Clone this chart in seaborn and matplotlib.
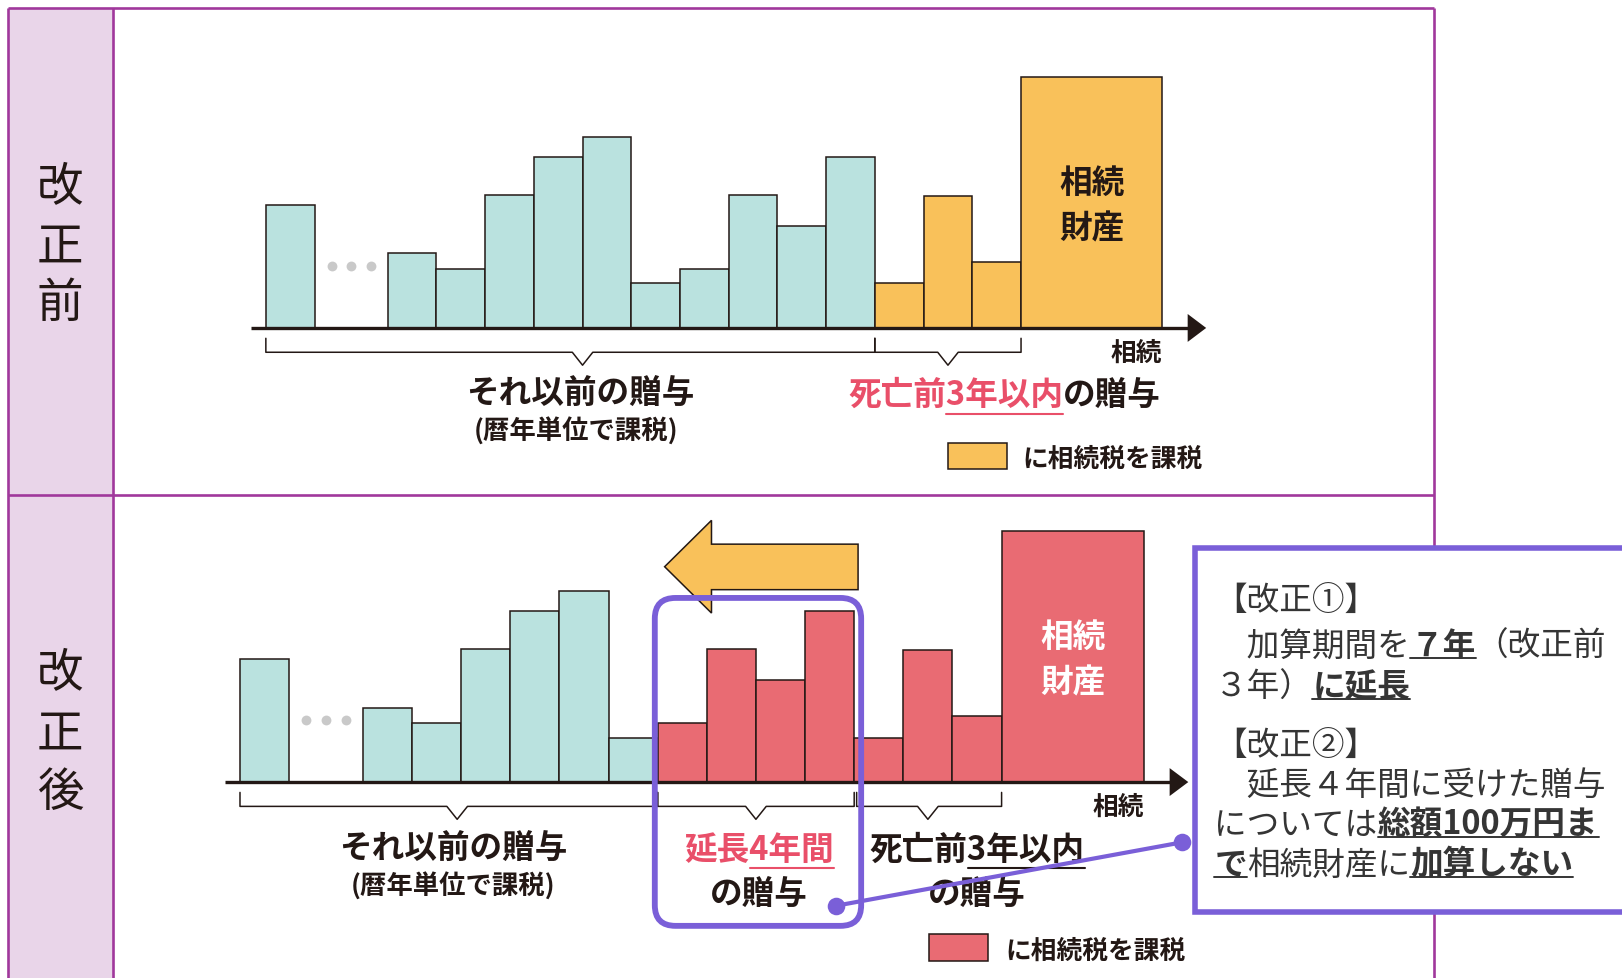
import matplotlib
matplotlib.use("Agg")
import matplotlib.pyplot as plt
from matplotlib import font_manager as fm
from matplotlib.ft2font import FT2Font
from matplotlib.patches import Rectangle, Polygon, FancyBboxPatch
import numpy as np
import pandas as pd
import seaborn as sns

# ---------------------------------------------------------------- data
# yearly gifts, oldest first (the first one stands for "much earlier")
gift_amounts = [119, 72, 57, 129, 165, 185, 43, 57, 129, 99, 165, 43, 128, 64]
estate_amount = 243
window_before = 3   # years added back to the estate before the reform
window_after = 7    # years added back after the reform

panel_titles = ["改正前", "改正後"]
earlier_label = "それ以前の贈与"
earlier_note = "(暦年単位で課税)"
death_label = "相続"
estate_label = ["相続", "財産"]
legend_label = "に相続税を課税"

box_lines = [
    [("【改正①】", False)],
    [("　加算期間を", False), ("７年", True), ("（改正前", False)],
    [("３年）", False), ("に延長", True)],
    [("【改正②】", False)],
    [("　延長４年間に受けた贈与", False)],
    [("については", False), ("総額100万円ま", True)],
    [("で", True), ("相続財産に", False), ("加算しない", True)],
]

# ---------------------------------------------------------------- style
TEAL = "#BAE2DF"
ORANGE = "#F9C15A"
RED = "#E96B73"
EDGE = "#231815"
FRAME = "#A0389C"
LABEL_FILL = "#E9D5E9"
PURPLE = "#7A5FD8"
TEXT_RED = "#E94F69"
BOX_TEXT = "#353535"
DOT_GRAY = "#C9C9C9"
JP = "Noto Sans CJK JP"

sns.set_theme(style="white")
plt.rcParams["font.family"] = [JP, "DejaVu Sans"]

DPI = 100
W_PX, H_PX = 1622, 979
VW = 1568.0                 # layout units across the figure
S = W_PX / VW               # pixels per layout unit
VH = H_PX / S

fig = plt.figure(figsize=(W_PX / DPI, H_PX / DPI), dpi=DPI, facecolor="white")

# overlay in layout units (y downwards) for frame, callouts and texts
ov = fig.add_axes([0, 0, 1, 1], zorder=5)
ov.set_xlim(0, VW)
ov.set_ylim(VH, 0)
ov.set_axis_off()

_fonts = {}


def advance(s, size, weight="normal"):
    """Pen advance of a string in layout units."""
    try:
        if weight not in _fonts:
            path = fm.findfont(fm.FontProperties(family=JP, weight=weight))
            _fonts[weight] = FT2Font(path)
        f = _fonts[weight]
        f.set_size(size, DPI)
        tot = 0.0
        for ch in s:
            tot += f.load_char(ord(ch)).linearHoriAdvance / 65536.0
        return tot / S
    except Exception:
        t = ov.text(0, 0, s, fontsize=size, fontweight=weight)
        w = t.get_window_extent(fig.canvas.get_renderer()).width / S
        t.remove()
        return w


def baseline(yc, size):
    return yc + 0.36 * size * DPI / 72.0 / S


# ---------------------------------------------------------------- frame
FX0, FY0, FCOL, FX1, FDIV = 7.4, 8.7, 109.5, 1386.0, 479.5
ov.add_patch(Rectangle((FX0, FY0), FCOL - FX0, VH, fc=LABEL_FILL, ec="none", zorder=0))
for xs, ys in [([FX0, FX1], [FY0, FY0]), ([FX0, FX1], [FDIV, FDIV]),
               ([FX0, FX0], [FY0, VH + 5]), ([FCOL, FCOL], [FY0, VH + 5]),
               ([FX1, FX1], [FY0, VH + 5])]:
    ov.plot(xs, ys, color=FRAME, lw=1.9, zorder=1, solid_capstyle="butt")

for title, ys in zip(panel_titles, [[182, 239, 294], [651.5, 709.5, 766]]):
    for ch, yc in zip(title, ys):
        ov.text(58, yc, ch, fontsize=33.5, color=EDGE, ha="center", va="center", zorder=6)

# ---------------------------------------------------------------- bar panels
XMIN, XMAX, YMAX = -0.8, 18.8, 260
ESTATE_W = 2.9
n = len(gift_amounts)
slots = [0.0] + [2.5 + i for i in range(n - 1)]
years_before = [n - i for i in range(n)]


def bar_panel(first_left, slot_w, base_y, window, taxed_color, estate_txt, brackets):
    left = first_left + (XMIN + 0.5) * slot_w
    ax = fig.add_axes([left / VW, 1 - base_y / VH, (XMAX - XMIN) * slot_w / VW, YMAX / VH])
    ax.patch.set_visible(False)
    df = pd.DataFrame({
        "slot": slots,
        "amount": gift_amounts,
        "group": ["taxed" if y <= window else "earlier" for y in years_before],
    })
    sns.barplot(data=df, x="slot", y="amount", hue="group",
                palette={"earlier": TEAL, "taxed": taxed_color},
                native_scale=True, dodge=False, width=1.0, saturation=1,
                edgecolor=EDGE, linewidth=1.1, errorbar=None, legend=False, ax=ax)
    est_left = slots[-1] + 0.5
    ax.bar(est_left, estate_amount, width=ESTATE_W, align="edge",
           color=taxed_color, edgecolor=EDGE, linewidth=1.1)
    cx = est_left + ESTATE_W / 2
    for txt, yy in zip(estate_label, [141, 97]):
        ax.text(cx, yy, txt, fontsize=23.5, fontweight="bold", color=estate_txt,
                ha="center", va="center")
    # dots in the gap between the oldest gift and the rest
    gap_c = (slots[0] + slots[1]) / 2
    ax.scatter([gap_c - 0.4, gap_c, gap_c + 0.4], [60, 60, 60], s=50,
               color=DOT_GRAY, linewidths=0, zorder=3)
    # time axis with arrow head
    ax.plot([XMIN, 18.45], [0, 0], color=EDGE, lw=2.4, solid_capstyle="butt",
            clip_on=False, zorder=4)
    ax.add_patch(Polygon([(18.42, -13.5), (XMAX, 0), (18.42, 13.5)], closed=True,
                         fc=EDGE, ec="none", clip_on=False, zorder=4))
    # brackets under the axis
    for a, b, notch in brackets:
        hw = 0.21
        xs = [a, a, notch - hw, notch, notch + hw, b, b]
        ys = [-10, -23.5, -23.5, -36, -23.5, -23.5, -10]
        ax.plot(xs, ys, color=EDGE, lw=1.1, clip_on=False, zorder=4)
    ax.set_xlim(XMIN, XMAX)
    ax.set_ylim(0, YMAX)
    ax.set_axis_off()
    return ax


bar_panel(257, 47.1, 318, window_before, ORANGE, EDGE,
          [(-0.5, 12.0, 6.0), (12.0, 15.0, 13.5)])
bar_panel(232, 47.5, 757, window_after, RED, "white",
          [(-0.5, 8.0, 3.92), (8.0, 12.0, 10.0), (12.05, 15.0, 13.5)])

# ---------------------------------------------------------------- labels under the axes
LBL = 23.5
NOTE = 19
SMALL = 18.5


def centered(x, y, s, size, color=EDGE, weight="bold"):
    ov.text(x, y, s, fontsize=size, fontweight=weight, color=color,
            ha="center", va="center", zorder=6)


def run(x_pen, yc, parts, size, weight="bold"):
    """Draw colored runs one after another; returns pen positions."""
    yb = baseline(yc, size)
    pens = []
    for s, col in parts:
        pens.append(x_pen)
        ov.text(x_pen, yb, s, fontsize=size, fontweight=weight, color=col,
                ha="left", va="baseline", zorder=6)
        x_pen += advance(s, size, weight)
    pens.append(x_pen)
    return pens


# top panel
centered(561, 380, earlier_label, LBL)
centered(557, 417, earlier_note, NOTE)
red_part, dark_part = "死亡前3年以内", "の贈与"
tot = advance(red_part + dark_part, LBL, "bold")
p0 = 971 - tot / 2
run(p0, 380, [(red_part, TEXT_RED), (dark_part, EDGE)], LBL)
u0 = p0 + advance("死亡前", LBL, "bold")
u1 = p0 + advance(red_part, LBL, "bold")
ov.plot([u0, u1], [401.5, 401.5], color=TEXT_RED, lw=1.5, zorder=6)
centered(1098, 341.5, death_label, SMALL)
ov.add_patch(Rectangle((916.5, 429), 56.5, 25.5, fc=ORANGE, ec=EDGE, lw=1.1, zorder=6))
run(988, 442.5, [(legend_label, EDGE)], SMALL)

# bottom panel
centered(438.6, 820, earlier_label, LBL)
centered(438, 857, earlier_note, NOTE)
ext = "延長4年間"
w_ext = advance(ext, LBL, "bold")
e0 = 734 - w_ext / 2
run(e0, 820, [(ext, TEXT_RED)], LBL)
ov.plot([e0 + advance("延長", LBL, "bold"), e0 + w_ext], [840, 840],
        color=TEXT_RED, lw=1.5, zorder=6)
centered(734, 865, dark_part, LBL)
w_d = advance(red_part, LBL, "bold")
d0 = 944.6 - w_d / 2
run(d0, 820, [(red_part, EDGE)], LBL)
ov.plot([d0 + advance("死亡前", LBL, "bold"), d0 + w_d], [840, 840],
        color=EDGE, lw=1.5, zorder=6)
centered(944.5, 865, dark_part, LBL)
centered(1081, 780, death_label, SMALL)
ov.add_patch(Rectangle((898, 904), 57, 26, fc=RED, ec=EDGE, lw=1.1, zorder=6))
run(972, 917.5, [(legend_label, EDGE)], SMALL)

# ---------------------------------------------------------------- callouts
ov.add_patch(Polygon([(642.5, 548.8), (687.8, 504), (687.8, 527), (829.5, 527),
                      (829.5, 571), (687.8, 571), (687.8, 593.6)], closed=True,
                     fc=ORANGE, ec=EDGE, lw=1.1, zorder=2))
ov.add_patch(FancyBboxPatch((633, 579), 199.5, 317,
                            boxstyle="round,pad=0,rounding_size=20",
                            fc="none", ec=PURPLE, lw=4.2, zorder=3))
ov.plot([808.5, 1142.4], [876.5, 815.3], color=PURPLE, lw=3.0, zorder=8)
ov.scatter([808.5, 1142.4], [876.5, 815.3], s=160, color=PURPLE, linewidths=0, zorder=8)

ov.add_patch(Rectangle((1155, 530.5), 600, 352, fc="white", ec=PURPLE, lw=4.0, zorder=7))

BOX = 23.5
x0 = 1174
line_y = [578, 623, 662, 718, 757, 795.5, 834]
for segs, yc in zip(box_lines, line_y):
    x = x0
    yb = baseline(yc, BOX)
    for s, bold in segs:
        wgt = "bold" if bold else "normal"
        ov.text(x, yb, s, fontsize=BOX, fontweight=wgt, color=BOX_TEXT,
                ha="left", va="baseline", zorder=9)
        w = advance(s, BOX, wgt)
        if bold:
            ov.plot([x, x + w], [yc + 14.5, yc + 14.5], color=BOX_TEXT, lw=1.4, zorder=9)
        x += w

fig.savefig("out.png", dpi=DPI, facecolor="white")
